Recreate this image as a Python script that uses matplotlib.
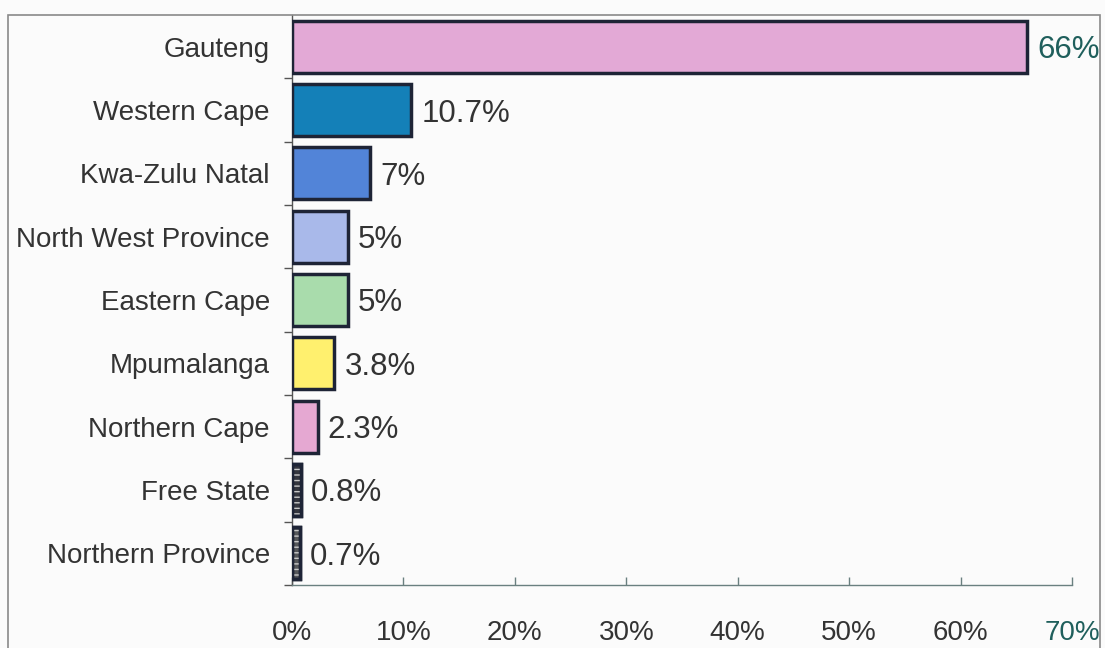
import matplotlib
matplotlib.use("Agg")
import matplotlib.pyplot as plt
from matplotlib.patches import Rectangle
import numpy as np

plt.rcParams['font.family'] = ['Liberation Sans', 'DejaVu Sans']

provinces = ["Gauteng", "Western Cape", "Kwa-Zulu Natal", "North West Province",
             "Eastern Cape", "Mpumalanga", "Northern Cape", "Free State",
             "Northern Province"]
shares = [66, 10.7, 7, 5, 5, 3.8, 2.3, 0.8, 0.7]
value_labels = ["66%", "10.7%", "7%", "5%", "5%", "3.8%", "2.3%", "0.8%", "0.7%"]
bar_colors = ["#e3a9d6", "#1480b8", "#5284d8", "#a9b9ea", "#a9dcac",
              "#fff06e", "#e5a8d2", "#34363e", "#55575a"]
xticks = [0, 10, 20, 30, 40, 50, 60, 70]

W, H = 1105, 648
fig = plt.figure(figsize=(W / 100, H / 100), dpi=100, facecolor="#fbfbfb")
ax = fig.add_axes([292 / W, 1 - 585 / H, (1072 - 292) / W, (585 - 15) / H])
ax.set_facecolor("#fbfbfb")

# outer frame around the chart
fig.patches.append(Rectangle((8 / W, -0.02), (1100 - 8) / W, 1 - 15 / H + 0.02,
                             transform=fig.transFigure, fill=False,
                             edgecolor="#8a8a8a", linewidth=1.2, zorder=0))

y = np.arange(len(provinces))
edge = "#1e2436"
bars = ax.barh(y, shares, height=0.82, color=bar_colors, edgecolor=edge,
               linewidth=2.5, zorder=3)

# striped texture on the two thin dark bars
for i in (7, 8):
    ax.barh(y[i], shares[i], height=0.82, color="none", edgecolor="#c8c8c8",
            hatch="---", linewidth=0, zorder=4)
    ax.barh(y[i], shares[i], height=0.82, color="none", edgecolor=edge,
            linewidth=2.5, zorder=5)

text_color = "#333333"
teal = "#1f5f5c"
for i, (v, lab) in enumerate(zip(shares, value_labels)):
    ax.text(v + 0.9, y[i], lab, va="center_baseline", ha="left", fontsize=22.5,
            color=teal if i == 0 else text_color, zorder=6)

ax.set_xlim(0, 70)
ax.set_ylim(len(provinces) - 0.5, -0.5)

ax.set_yticks(y)
ax.set_yticklabels(provinces, fontsize=20, color=text_color)
ax.tick_params(axis="y", which="major", length=0, pad=16)
ax.set_yticks(np.arange(0.5, len(provinces) + 0.5, 1), minor=True)
ax.tick_params(axis="y", which="minor", length=6, direction="out",
               color="#555555", width=1)

ax.set_xticks(xticks)
ax.set_xticklabels([f"{t}%" for t in xticks], fontsize=20, color=text_color)
ax.get_xticklabels()[-1].set_color(teal)
ax.tick_params(axis="x", length=6, direction="in", color="#6a8080",
               width=1, pad=25)

for s in ("top", "right"):
    ax.spines[s].set_visible(False)
ax.spines["left"].set_color("#555555")
ax.spines["bottom"].set_color("#6a8080")
ax.spines["left"].set_linewidth(1)
ax.spines["bottom"].set_linewidth(1)

fig.savefig("out.png", dpi=100, facecolor=fig.get_facecolor())
